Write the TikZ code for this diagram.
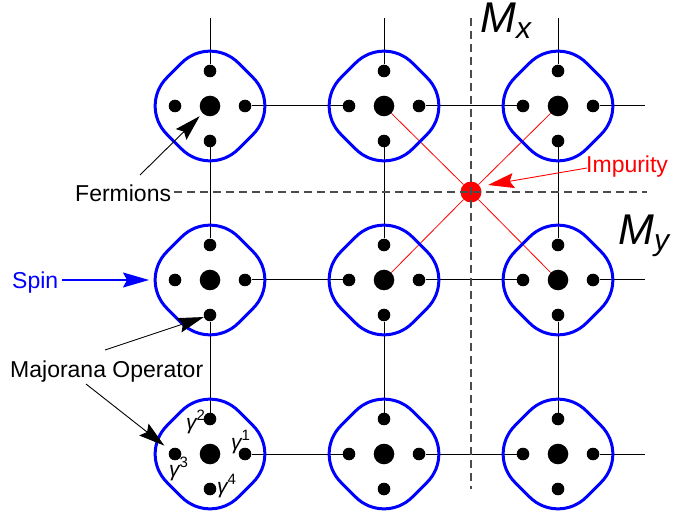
\documentclass[tikz,border=0pt]{standalone}
\usepackage{fontspec}
\setmainfont{Liberation Sans}
\usetikzlibrary{arrows.meta,backgrounds}

\begin{document}
\begin{tikzpicture}[x=1pt,y=-1pt,
  blobline/.style={draw=blue, line width=3pt},
  bigdot/.style={circle, fill=black, inner sep=0pt, minimum size=20.6pt},
  smalldot/.style={circle, fill=black, inner sep=0pt, minimum size=12.6pt},
  gridline/.style={line width=1pt, black},
  hopline/.style={line width=0.8pt, red},
  mirror/.style={dash pattern=on 8pt off 5pt, line width=1.2pt, black!70},
  label/.style={anchor=base west, inner sep=0pt, font=\fontsize{23}{27}\selectfont},
  biglabel/.style={anchor=base west, inner sep=0pt, font=\fontsize{43}{43}\selectfont\itshape},
  gam/.style={anchor=base west, inner sep=0pt, font=\fontsize{21}{21}\selectfont\itshape},
  pointer/.style={-{Stealth[length=26pt,width=15pt,inset=4pt]}, line width=0.9pt},
]
\useasboundingbox (0,0) rectangle (673,516);

% spin outline: a square turned by 45 degrees, half side \ba, corner radius \br
\def\ba{50.5}
\def\br{40}
\def\bs{10.5}
\foreach \r/\cy in {1/106,2/280,3/454} {
  \foreach \c/\cx in {1/210,2/384,3/558} {
    \draw[blobline, shift={(\cx,\cy)}, rotate=45]
      (\ba,-\bs) -- (\ba,\bs) arc[start angle=0, end angle=90, radius=\br]
      -- (-\bs,\ba) arc[start angle=90, end angle=180, radius=\br]
      -- (-\ba,-\bs) arc[start angle=180, end angle=270, radius=\br]
      -- (\bs,-\ba) arc[start angle=270, end angle=360, radius=\br]
      -- cycle;
    \node[bigdot] (c-\r-\c) at (\cx,\cy) {};
    \node[smalldot] (t-\r-\c) at (\cx,\cy-35) {};
    \node[smalldot] (b-\r-\c) at (\cx,\cy+35) {};
    \node[smalldot] (l-\r-\c) at (\cx-35,\cy) {};
    \node[smalldot] (r-\r-\c) at (\cx+35,\cy) {};
  }
}

% open ends of the lattice bonds
\foreach \c/\cx in {1/210,2/384,3/558} { \coordinate (top-\c) at (\cx,18); }
\foreach \r/\cy in {1/106,2/280,3/454} { \coordinate (end-\r) at (645,\cy); }

% impurity
\node[circle, fill=red, inner sep=0pt, minimum size=21pt] (imp) at (471,192) {};

\begin{scope}[on background layer]
  \foreach \c in {1,2,3} {
    \draw[gridline] (top-\c) -- (t-1-\c);
    \draw[gridline] (b-1-\c) -- (t-2-\c);
    \draw[gridline] (b-2-\c) -- (t-3-\c);
  }
  \foreach \r in {1,2,3} {
    \draw[gridline] (r-\r-1) -- (l-\r-2);
    \draw[gridline] (r-\r-2) -- (l-\r-3);
    \draw[gridline] (r-\r-3) -- (end-\r);
  }
  \draw[hopline] (imp) -- (c-1-2);
  \draw[hopline] (imp) -- (c-1-3);
  \draw[hopline] (imp) -- (c-2-2);
  \draw[hopline] (imp) -- (c-2-3);
\end{scope}

% mirror planes
\coordinate (mx-top) at (471,18);
\coordinate (mx-bot) at (471,489);
\coordinate (my-left) at (174,192);
\coordinate (my-right) at (647,192);
\draw[mirror] (mx-top) -- (mx-bot);
\draw[mirror] (my-left) -- (my-right);

\node[biglabel] (mx) at (480,33) {M\raisebox{-6pt}{\fontsize{30}{30}\selectfont x}};
\node[biglabel] (my) at (618,244) {M\raisebox{-6pt}{\fontsize{30}{30}\selectfont y}};

% text labels
\node[label] (ferm) at (75,202) {Fermions};
\node[label, text=blue] (spin) at (12,288) {Spin};
\node[label] (maj) at (10,377) {Majorana Operator};
\node[label, text=red] (impl) at (586,173) {Impurity};

% Majorana operator names
\node[gam] (g2) at (186,429) {γ\raisebox{8.6pt}{\fontsize{15}{15}\selectfont\upshape 2}};
\node[gam] (g1) at (231,449) {γ\raisebox{8.6pt}{\fontsize{15}{15}\selectfont\upshape 1}};
\node[gam] (g3) at (169,476) {γ\raisebox{8.6pt}{\fontsize{15}{15}\selectfont\upshape 3}};
\node[gam] (g4) at (217,493) {γ\raisebox{8.6pt}{\fontsize{15}{15}\selectfont\upshape 4}};

% pointers
\coordinate (ferm-tail) at (140,175);
\coordinate (spin-tail) at (62,280);
\coordinate (spin-tip) at (149,280);
\coordinate (maj-tail-a) at (105,350);
\coordinate (maj-tail-b) at (86,384);
\coordinate (imp-tail) at (587,168);
\coordinate (imp-tip) at (488,185);

\draw[pointer, shorten >=4pt] (ferm-tail) -- (c-1-1);
\draw[pointer, blue, line width=1.3pt] (spin-tail) -- (spin-tip);
\draw[pointer] (maj-tail-a) -- (b-2-1);
\draw[pointer, shorten >=7pt] (maj-tail-b) -- (l-3-1);
\draw[pointer, red] (imp-tail) -- (imp-tip);
\end{tikzpicture}
\end{document}
